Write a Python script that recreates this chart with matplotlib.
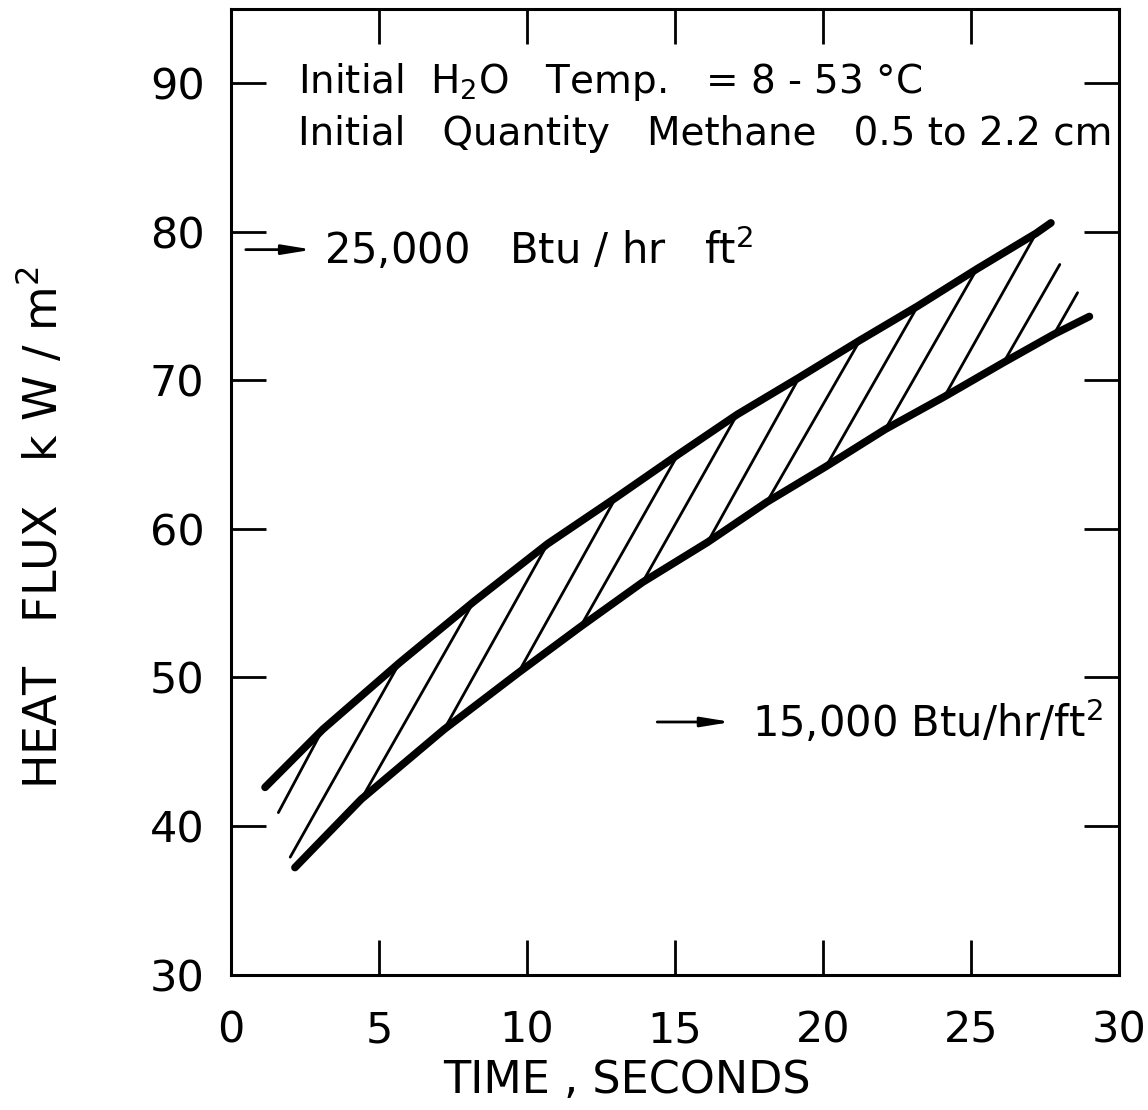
import numpy as np
import matplotlib.pyplot as plt

plt.rcParams['font.family'] = 'DejaVu Sans'
plt.rcParams['mathtext.fontset'] = 'dejavusans'

# upper and lower bounds of the measured heat-flux band
t_upper = [1.15, 3.1, 5.7, 8.2, 10.7, 13.0, 15.1, 17.1, 19.2, 21.25, 23.2, 25.2, 27.2, 27.7]
q_upper = [42.6, 46.5, 51.0, 55.1, 59.0, 62.1, 65.0, 67.7, 70.2, 72.7, 75.0, 77.5, 79.9, 80.6]
t_lower = [2.16, 4.4, 7.2, 9.7, 11.8, 13.9, 16.1, 18.1, 20.1, 22.1, 24.1, 26.1, 27.8, 29.0]
q_lower = [37.2, 41.8, 46.5, 50.3, 53.4, 56.4, 59.1, 61.8, 64.2, 66.7, 68.9, 71.2, 73.1, 74.3]

# hatch strokes across the band (start -> end)
hatch_t0 = [1.6, 2.0, 4.4, 7.2, 9.7, 11.8, 13.9, 16.1, 18.1, 20.1, 22.1, 24.1, 26.1, 27.8]
hatch_q0 = [40.9, 37.9, 41.8, 46.5, 50.3, 53.4, 56.4, 59.1, 61.8, 64.2, 66.7, 68.9, 71.2, 73.1]
hatch_t1 = [3.1, 5.7, 8.2, 10.7, 13.0, 15.1, 17.1, 19.2, 21.25, 23.2, 25.2, 27.2, 28.0, 28.6]
hatch_q1 = [46.5, 51.0, 55.1, 59.0, 62.1, 65.0, 67.7, 70.2, 72.7, 75.0, 77.5, 79.9, 77.8, 75.9]

x_ticks = [0, 5, 10, 15, 20, 25, 30]
y_ticks = [30, 40, 50, 60, 70, 80, 90]

W, H = 1148, 1110
fig = plt.figure(figsize=(W / 100, H / 100), dpi=100)
ax = fig.add_axes([231 / W, 1 - 974.5 / H, (1119 - 231) / W, (974.5 - 9) / H])

for t0, q0, t1, q1 in zip(hatch_t0, hatch_q0, hatch_t1, hatch_q1):
    ax.plot([t0, t1], [q0, q1], color='k', lw=2.0, solid_capstyle='round')

ax.plot(t_upper, q_upper, color='k', lw=5.5, solid_capstyle='round', solid_joinstyle='round')
ax.plot(t_lower, q_lower, color='k', lw=5.5, solid_capstyle='round', solid_joinstyle='round')

ax.set_xlim(0, 30)
ax.set_ylim(30, 95)
ax.set_xticks(x_ticks)
ax.set_yticks(y_ticks)
ax.tick_params(direction='in', length=25, width=2.0, top=True, right=True,
               labelsize=31)
ax.tick_params(axis='x', pad=25)
ax.tick_params(axis='y', pad=19)
for s in ax.spines.values():
    s.set_linewidth(2.2)

# notes
ax.text(2.26, 90.1, 'Initial  H$_2$O   Temp.   = 8 - 53 °C', fontsize=28, va='center')
ax.text(2.26, 86.6, 'Initial   Quantity   Methane   0.5 to 2.2 cm', fontsize=28, va='center')

arrow = dict(arrowstyle='-|>,head_width=0.13,head_length=0.8', lw=2.0, color='k',
             shrinkA=0, shrinkB=0, mutation_scale=22)
ax.annotate('', xy=(2.75, 78.8), xytext=(0.5, 78.8), arrowprops=arrow)
ax.text(3.15, 78.8, '25,000   Btu / hr   ft$^2$', fontsize=30, va='center')
ax.annotate('', xy=(16.9, 47.0), xytext=(14.4, 47.0), arrowprops=arrow)
ax.text(17.6, 47.0, '15,000 Btu/hr/ft$^2$', fontsize=30, va='center')

fig.text(42 / W, 1 - 528 / H, 'HEAT   FLUX   k W / m$^2$', rotation=90,
         ha='center', va='center', fontsize=33)
fig.text(627 / W, 1 - 1080 / H, 'TIME , SECONDS', ha='center', va='center', fontsize=32)

fig.savefig('out.png', dpi=100)
